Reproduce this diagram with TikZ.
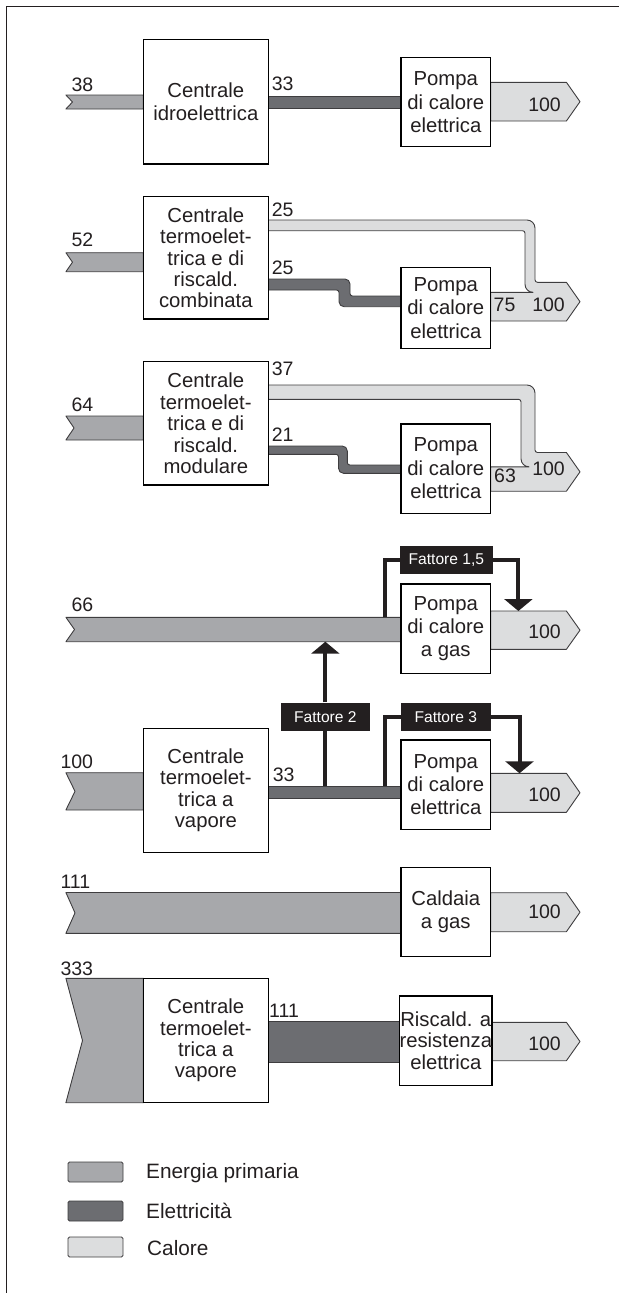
\documentclass[tikz,border=0pt]{standalone}
\usepackage{fontspec}
\setmainfont{Liberation Sans}
\usetikzlibrary{arrows.meta}
\definecolor{cPrim}{RGB}{167,168,171}
\definecolor{cElec}{RGB}{108,109,113}
\definecolor{cHeat}{RGB}{220,221,222}
\definecolor{cEdge}{RGB}{62,61,63}
\definecolor{cBlk}{RGB}{35,31,32}
\newcommand\plantfont{\fontsize{20.3}{21.4}\selectfont}
\newcommand\devfont{\fontsize{20.3}{23.4}\selectfont}
\newcommand\valfont{\fontsize{19.5}{21}\selectfont}
\newcommand\facfont{\fontsize{15.6}{17}\selectfont}
\newcommand\keyfont{\fontsize{20.8}{23}\selectfont}
\tikzset{
  band/.style={draw=cEdge, line width=0.9pt, line join=round},
  prim/.style={band, fill=cPrim},
  elec/.style={band, fill=cElec},
  heat/.style={band, fill=cHeat},
  unit/.style={draw=black, line width=1.2pt, fill=white, align=center,
    inner sep=0pt, text=cBlk},
  plant/.style={unit, minimum width=124.9pt, font=\plantfont},
  device/.style={unit, minimum width=89.8pt, minimum height=89.2pt, font=\devfont},
  val/.style={inner sep=0pt, font=\valfont, text=cBlk},
  factor/.style={fill=cBlk, text=white, inner sep=0pt, font=\facfont,
    minimum height=28.4pt},
  link/.style={draw=cBlk, line width=4pt, line join=miter},
  lead/.style={link, -{Triangle[width=28pt,length=12pt]}},
  key/.style={draw=cEdge, line width=0.9pt, rounded corners=1.5pt,
    minimum width=55pt, minimum height=20pt, inner sep=0pt},
  keytext/.style={anchor=base west, inner sep=0pt, font=\keyfont, text=cBlk}
}
\begin{document}
\begin{tikzpicture}[x=1pt,y=-1pt]
\useasboundingbox (0,0) rectangle (619,1293);
% frame
\coordinate (fa) at (6.7,1293);
\coordinate (fb) at (6.7,6.7);
\coordinate (fc) at (619,6.7);
\draw[line width=1.5pt, cBlk] (fa) -- (fb) -- (fc);

% ---------- 1: hydro plant + electric heat pump
\path[prim] (65.9,95) -- (143.4,95) -- (143.4,109) -- (65.9,109) -- (72.5,102) -- cycle;
\path[elec] (268.3,96) rectangle (400.9,108.3);
\path[heat] (490.7,82.3) -- (566.4,82.3) -- (580,101.65) -- (566.4,121) -- (490.7,121) -- cycle;
\node[plant, minimum height=124.7pt, font=\devfont] (b1) at (205.85,101.65) {Centrale\\idroelettrica};
\node[device] (p1) at (445.8,102.2) {Pompa\\di calore\\elettrica};
\node[val, anchor=base west] (v1a) at (71.4,91.7) {38};
\node[val, anchor=base west] (v1b) at (271.6,90) {33};
\node[val, anchor=base east] (v1c) at (561,111) {100};

% ---------- 2: combined heat and power plant
\path[prim] (65.9,252.7) -- (143.4,252.7) -- (143.4,271.7) -- (65.9,271.7) -- (72.5,262.2) -- cycle;
\path[heat] (268.3,220) -- (527,220) arc[start angle=-90, end angle=0, radius=8]
  -- (535,279.8) arc[start angle=180, end angle=90, radius=2.5]
  -- (566.4,282.3) -- (580,301.65) -- (566.4,321) -- (490.7,321) -- (490.7,292.3)
  -- (533,292.3) arc[start angle=90, end angle=180, radius=8]
  -- (525,233.2) arc[start angle=0, end angle=-90, radius=2.5]
  -- (268.3,230.7) -- cycle;
\path[elec] (268.3,279) -- (345,279) arc[start angle=-90, end angle=0, radius=5]
  -- (350,293.5) arc[start angle=180, end angle=90, radius=2.5]
  -- (400.9,296) -- (400.9,306.7) -- (344,306.7) arc[start angle=90, end angle=180, radius=5]
  -- (339,292.5) arc[start angle=0, end angle=-90, radius=2.5]
  -- (268.3,290) -- cycle;
\node[plant, minimum height=122.3pt] (b2) at (205.85,257.85)
  {Centrale\\termoelet-\\trica e di\\riscald.\\combinata};
\node[device, minimum height=80.6pt] (p2) at (445.8,308) {Pompa\\di calore\\elettrica};
\node[val, anchor=base west] (v2a) at (71.4,246.7) {52};
\node[val, anchor=base west] (v2b) at (271.6,216) {25};
\node[val, anchor=base west] (v2c) at (271.6,274.3) {25};
\node[val, anchor=base west] (v2d) at (493.5,311.7) {75};
\node[val, anchor=base east] (v2e) at (565,311.7) {100};

% ---------- 3: modular combined heat and power plant
\path[prim] (65.9,416) -- (143.4,416) -- (143.4,440) -- (65.9,440) -- (74,428) -- cycle;
\path[heat] (268.3,385) -- (527,385) arc[start angle=-90, end angle=0, radius=8]
  -- (535,450) arc[start angle=180, end angle=90, radius=2.5]
  -- (566.4,452.5) -- (580,471.85) -- (566.4,491.2) -- (490.7,491.2) -- (490.7,466.8)
  -- (529,466.8) arc[start angle=90, end angle=180, radius=8]
  -- (521,401.8) arc[start angle=0, end angle=-90, radius=2.5]
  -- (268.3,399.3) -- cycle;
\path[elec] (268.3,446) -- (342.3,446) arc[start angle=-90, end angle=0, radius=5]
  -- (347.3,462.5) arc[start angle=180, end angle=90, radius=2.5]
  -- (400.9,465) -- (400.9,473.3) -- (343.5,473.3) arc[start angle=90, end angle=180, radius=5]
  -- (338.5,456.8) arc[start angle=0, end angle=-90, radius=2.5]
  -- (268.3,454.3) -- cycle;
\node[plant, minimum height=123.3pt] (b3) at (205.85,423.35)
  {Centrale\\termoelet-\\trica e di\\riscald.\\modulare};
\node[device] (p3) at (445.8,468.5) {Pompa\\di calore\\elettrica};
\node[val, anchor=base west] (v3a) at (71.4,411) {64};
\node[val, anchor=base west] (v3b) at (271.6,375.7) {37};
\node[val, anchor=base west] (v3c) at (271.6,441.7) {21};
\node[val, anchor=base west] (v3d) at (494,482.5) {63};
\node[val, anchor=base east] (v3e) at (565,475.5) {100};

% ---------- 4: gas heat pump
\path[prim] (65.9,617.3) -- (400.9,617.3) -- (400.9,641.7) -- (65.9,641.7) -- (74.5,629.5) -- cycle;
\path[heat] (490.7,611) -- (566.4,611) -- (580,630.15) -- (566.4,649.3) -- (490.7,649.3) -- cycle;
\node[device] (p4) at (445.8,628.65) {Pompa\\di calore\\a gas};
\node[val, anchor=base west] (v4a) at (71.4,611.7) {66};
\node[val, anchor=base east] (v4b) at (561,638.3) {100};

% ---------- 5: steam power plant + electric heat pump
\path[prim] (65.9,772.7) -- (143.4,772.7) -- (143.4,810) -- (65.9,810) -- (75,791.35) -- cycle;
\path[elec] (268.3,786) rectangle (400.9,798.3);
\path[heat] (490.7,773.3) -- (566.4,773.3) -- (580,792.8) -- (566.4,812.3) -- (490.7,812.3) -- cycle;
\node[plant, minimum height=124pt] (b5) at (205.85,790.3) {Centrale\\termoelet-\\trica a\\vapore};
\node[device] (p5) at (445.8,784.65) {Pompa\\di calore\\elettrica};
\node[val, anchor=base west] (v5a) at (60.3,768.3) {100};
\node[val, anchor=base west] (v5b) at (272.7,781.7) {33};
\node[val, anchor=base east] (v5c) at (561,801.7) {100};

% factor links between rows 4 and 5
\coordinate (t4) at (384.7,617.3);
\coordinate (h4) at (518.4,611);
\coordinate (e5a) at (325.35,786);
\coordinate (g4) at (325.35,641.7);
\coordinate (e5b) at (384.7,786);
\coordinate (h5) at (519.5,773.3);
\node[factor, minimum width=92.3pt] (f15) at (446.35,560) {Fattore 1,5};
\node[factor, minimum width=89.1pt] (f2) at (325.35,716.85) {Fattore 2};
\node[factor, minimum width=89.8pt] (f3) at (445.8,716.85) {Fattore 3};
\draw[link] (t4) |- (f15.west);
\draw[lead] (f15.east) -| (h4);
\draw[link] (e5a) -- (f2.south);
\draw[lead] (f2.north) -- (g4);
\draw[link] (e5b) |- (f3.west);
\draw[lead] (f3.east) -| (h5);

% ---------- 6: gas boiler
\path[prim] (65.9,892.5) -- (400.9,892.5) -- (400.9,933.3) -- (65.9,933.3) -- (75,912.9) -- cycle;
\path[heat] (490.7,892.7) -- (566.4,892.7) -- (580,912.2) -- (566.4,931.7) -- (490.7,931.7) -- cycle;
\node[device, minimum height=89.4pt] (c6) at (445.8,912) {Caldaia\\a gas};
\node[val, anchor=base west] (v6a) at (60.3,888.3) {111};
\node[val, anchor=base east] (v6b) at (561,918.3) {100};

% ---------- 7: steam power plant + resistance heating
\path[prim] (65.9,978.3) -- (143.4,978.3) -- (143.4,1102.7) -- (65.9,1102.7) -- (82.5,1040.5) -- cycle;
\path[elec] (268.3,1021.7) rectangle (400.9,1062.3);
\path[heat] (490.7,1022.3) -- (566.4,1022.3) -- (580,1041.5) -- (566.4,1060.7) -- (490.7,1060.7) -- cycle;
\node[plant, minimum height=124.4pt] (b7) at (205.85,1040.5) {Centrale\\termoelet-\\trica a\\vapore};
\node[device, font=\plantfont] (r7) at (445.8,1040.5) {Riscald. a\\resistenza\\elettrica};
\node[val, anchor=base west] (v7a) at (60.3,975) {333};
\node[val, anchor=base west] (v7b) at (269,1017.7) {111};
\node[val, anchor=base east] (v7c) at (561,1050) {100};

% ---------- legend
\node[key, fill=cPrim] (k1) at (95.5,1172) {};
\node[key, fill=cElec] (k2) at (95.5,1211) {};
\node[key, fill=cHeat] (k3) at (95.5,1247) {};
\node[keytext] (k1t) at (146,1178.5) {Energia primaria};
\node[keytext] (k2t) at (146,1218) {Elettricità};
\node[keytext] (k3t) at (147,1255.5) {Calore};
\end{tikzpicture}
\end{document}
